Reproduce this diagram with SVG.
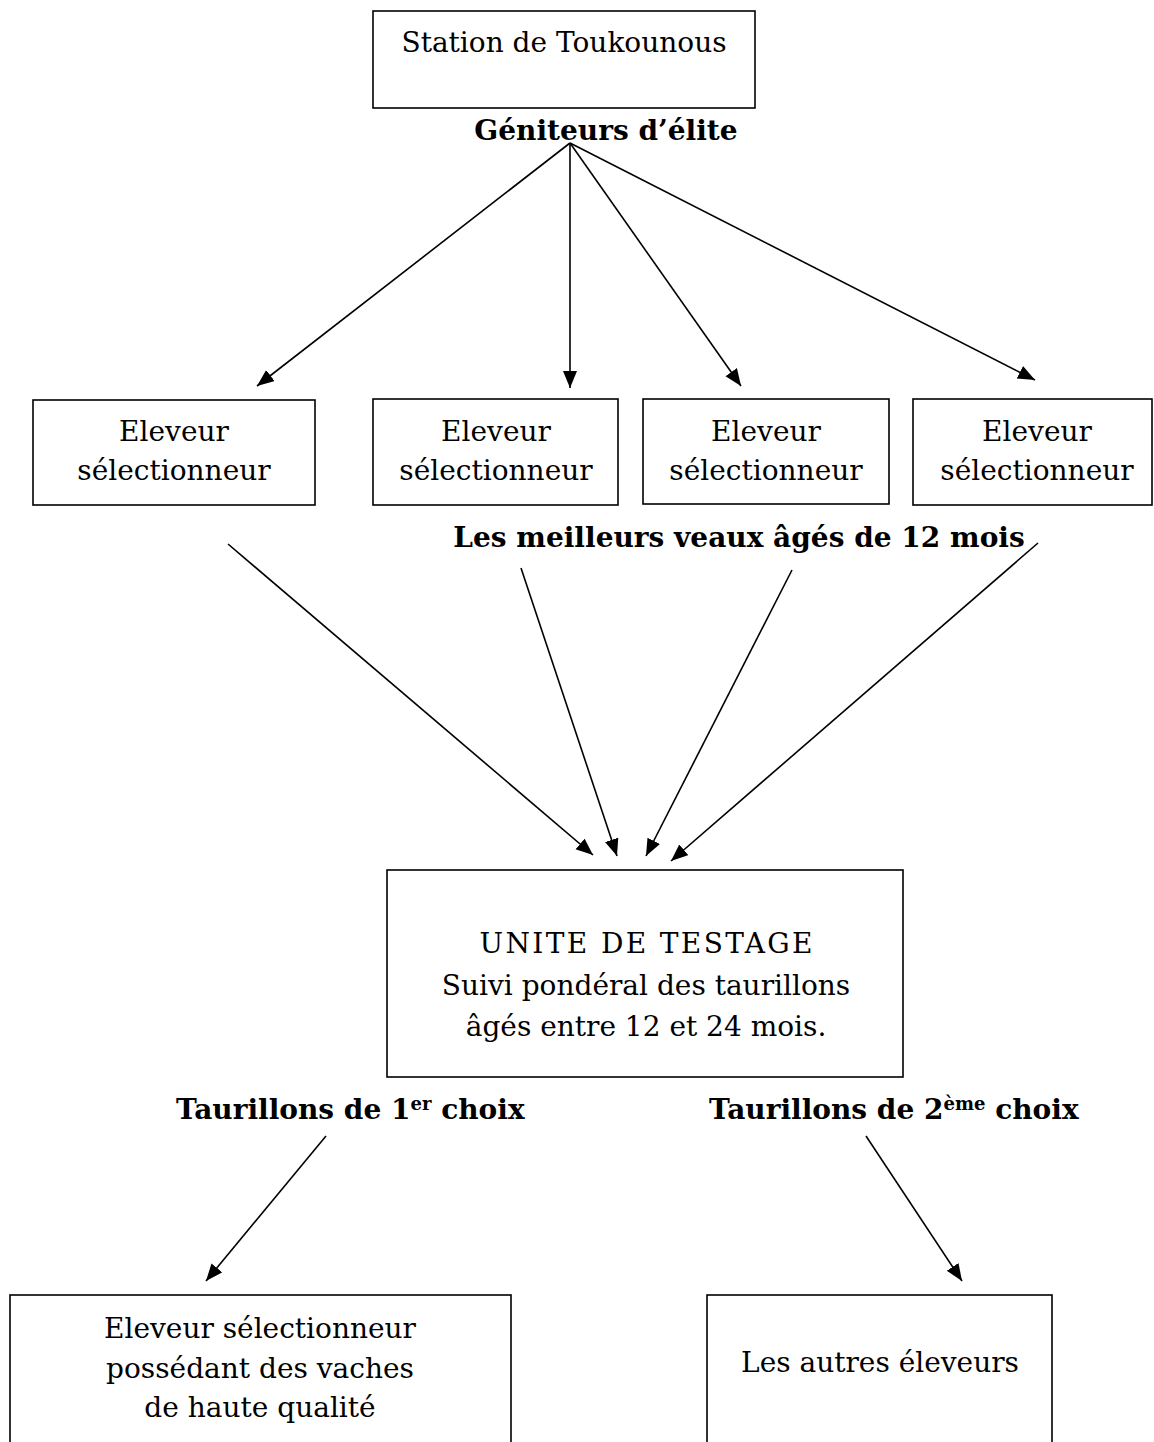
<svg xmlns="http://www.w3.org/2000/svg" width="1154" height="1442" viewBox="0 0 1154 1442">
<style>
.box{fill:#fff;stroke:#000;stroke-width:1.6}
.t{font-family:"DejaVu Serif","Liberation Serif",serif;font-size:28px;fill:#000;text-anchor:middle}
.b{font-family:"DejaVu Serif","Liberation Serif",serif;font-size:28px;font-weight:bold;fill:#000}
.c{fill:none;stroke:#000;stroke-width:1.6;marker-end:url(#ah)}
</style>
<defs>
<marker id="ah" markerUnits="userSpaceOnUse" markerWidth="20" markerHeight="16" refX="17" refY="7" orient="auto">
<path d="M0,0 L17,7 L0,14 z" fill="#000"/>
</marker>
</defs>
<rect width="1154" height="1442" fill="#fff"/>
<g id="station"><rect class="box" x="373" y="11" width="382" height="97"/><text class="t" x="564" y="52" font-size="29">Station de Toukounous</text></g>
<g id="label-geniteurs"><text class="b" x="606" y="140" text-anchor="middle">Géniteurs d’élite</text></g>
<g id="eleveur1"><rect class="box" x="33" y="400" width="282" height="105"/><text class="t" x="174" y="441">Eleveur</text><text class="t" x="174" y="480">sélectionneur</text></g>
<g id="eleveur2"><rect class="box" x="373" y="399" width="245" height="106"/><text class="t" x="496" y="441">Eleveur</text><text class="t" x="496" y="480">sélectionneur</text></g>
<g id="eleveur3"><rect class="box" x="643" y="399" width="246" height="105"/><text class="t" x="766" y="441">Eleveur</text><text class="t" x="766" y="480">sélectionneur</text></g>
<g id="eleveur4"><rect class="box" x="913" y="399" width="239" height="106"/><text class="t" x="1037" y="441">Eleveur</text><text class="t" x="1037" y="480">sélectionneur</text></g>
<g id="label-veaux"><text class="b" x="739" y="547" text-anchor="middle">Les meilleurs veaux âgés de 12 mois</text></g>
<g id="unite"><rect class="box" x="387" y="870" width="516" height="207"/><text class="t" x="646" y="953" font-size="29" textLength="333">UNITE DE TESTAGE</text><text class="t" x="646" y="995" font-size="29">Suivi pondéral des taurillons</text><text class="t" x="646" y="1036" font-size="29">âgés entre 12 et 24 mois.</text></g>
<g id="label-choix1"><text class="b" x="176" y="1119">Taurillons de 1<tspan font-size="18" dy="-9">er</tspan><tspan dy="9"> choix</tspan></text></g>
<g id="label-choix2"><text class="b" x="709" y="1119">Taurillons de 2<tspan font-size="18" dy="-9">ème</tspan><tspan dy="9"> choix</tspan></text></g>
<g id="eleveur-haute"><rect class="box" x="10" y="1295" width="501" height="160"/><text class="t" x="260" y="1338">Eleveur sélectionneur</text><text class="t" x="260" y="1378">possédant des vaches</text><text class="t" x="260" y="1417">de haute qualité</text></g>
<g id="autres"><rect class="box" x="707" y="1295" width="345" height="160"/><text class="t" x="880" y="1372">Les autres éleveurs</text></g>
<g id="connectors">
<line class="c" x1="570" y1="143" x2="257" y2="386"/>
<line class="c" x1="570" y1="143" x2="570" y2="388"/>
<line class="c" x1="570" y1="143" x2="741" y2="386"/>
<line class="c" x1="570" y1="143" x2="1035" y2="380"/>
<line class="c" x1="228" y1="544" x2="593" y2="855"/>
<line class="c" x1="521" y1="568" x2="617" y2="856"/>
<line class="c" x1="792" y1="570" x2="646" y2="856"/>
<line class="c" x1="1038" y1="543" x2="671" y2="861"/>
<line class="c" x1="326" y1="1136" x2="206" y2="1281"/>
<line class="c" x1="866" y1="1136" x2="962" y2="1281"/>
</g>
</svg>
